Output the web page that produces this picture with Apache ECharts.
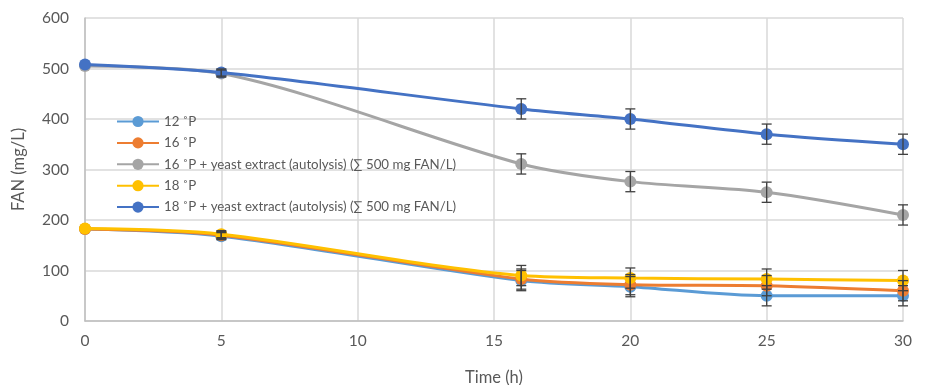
<!DOCTYPE html>
<html>
<head>
<meta charset="utf-8">
<script src="https://cdn.jsdelivr.net/npm/echarts@6/dist/echarts.min.js"></script>
<style>
  html, body { margin: 0; padding: 0; background: #fff; }
  #chart { width: 928px; height: 385px; }
</style>
</head>
<body>
<div id="chart"></div>
<script>
// time points (h)
var times = [0, 5, 16, 20, 25, 30]

// FAN values (mg/L)
var fan12 = [182, 168, 80, 68, 50, 50]
var fan16 = [182, 170, 83, 72, 70, 60]
var fan16ye = [505, 490, 311, 276, 255, 210]
var fan18 = [183, 172, 90, 85, 83, 80]
var fan18ye = [508, 492, 420, 400, 370, 350]

// error bar half widths
var err = [0, 7, 20, 20, 20, 20]

var names = [
  '12 ˚P',
  '16 ˚P',
  '16 ˚P + yeast extract (autolysis) (∑ 500 mg FAN/L)',
  '18 ˚P',
  '18 ˚P + yeast extract (autolysis) (∑ 500 mg FAN/L)'
]
var colors = ['#5B9BD5', '#ED7D31', '#A5A5A5', '#FFC000', '#4472C4']
var values = [fan12, fan16, fan16ye, fan18, fan18ye]

var chartDom = echarts.init(document.getElementById('chart'))

function pairs(vals) {
  return times.map(function (t, i) { return [t, vals[i]] })
}

function errData(vals) {
  return times.map(function (t, i) { return [t, vals[i] - err[i], vals[i] + err[i]] })
}

function renderErr(params, api) {
  if (api.value(2) - api.value(1) <= 0) return
  var lo = api.coord([api.value(0), api.value(1)])
  var hi = api.coord([api.value(0), api.value(2)])
  var cap = 5
  var st = { stroke: '#404040', lineWidth: 1.3 }
  return {
    type: 'group',
    children: [
      { type: 'line', shape: { x1: lo[0], y1: lo[1], x2: hi[0], y2: hi[1] }, style: st },
      { type: 'line', shape: { x1: lo[0] - cap, y1: lo[1], x2: lo[0] + cap, y2: lo[1] }, style: st },
      { type: 'line', shape: { x1: hi[0] - cap, y1: hi[1], x2: hi[0] + cap, y2: hi[1] }, style: st }
    ]
  }
}

var series = []
values.forEach(function (vals, i) {
  series.push({
    name: names[i],
    type: 'line',
    data: pairs(vals),
    smooth: 0.3,
    symbol: 'circle',
    symbolSize: 12,
    color: colors[i],
    lineStyle: { width: 3, color: colors[i] },
    itemStyle: { color: colors[i] },
    z: 2 + i
  })
})
values.forEach(function (vals) {
  series.push({
    type: 'custom',
    renderItem: renderErr,
    data: errData(vals),
    encode: { x: 0, y: [1, 2] },
    z: 20,
    silent: true
  })
})

var fontFam = 'Lato, "Open Sans", sans-serif'

chartDom.setOption({
  animation: false,
  textStyle: { fontFamily: fontFam },
  legend: {
    data: names,
    orient: 'vertical',
    left: 111,
    top: 110,
    itemWidth: 42,
    itemHeight: 14,
    itemGap: 8.4,
    textStyle: { color: '#595959', fontSize: 13.3, fontFamily: fontFam }
  },
  grid: { left: 85, right: 25, top: 18, bottom: 64, outerBoundsMode: 'none', containLabel: false },
  xAxis: {
    type: 'value',
    min: 0,
    max: 30,
    interval: 5,
    name: 'Time (h)',
    nameLocation: 'middle',
    nameGap: 48,
    nameTextStyle: { color: '#595959', fontSize: 16.5 },
    axisLine: { lineStyle: { color: '#BFBFBF', width: 1.5 } },
    axisTick: { show: false },
    axisLabel: { color: '#595959', fontSize: 15.5, margin: 12 },
    splitLine: { show: true, lineStyle: { color: '#D9D9D9', width: 1.5 } }
  },
  yAxis: {
    type: 'value',
    min: 0,
    max: 600,
    interval: 100,
    name: 'FAN (mg/L)',
    nameLocation: 'middle',
    nameGap: 58,
    nameTextStyle: { color: '#595959', fontSize: 16.5 },
    axisLine: { show: true, lineStyle: { color: '#BFBFBF', width: 1.5 } },
    axisTick: { show: false },
    axisLabel: { color: '#595959', fontSize: 15.5, margin: 16 },
    splitLine: { lineStyle: { color: '#D9D9D9', width: 1.5 } }
  },
  series: series
})
</script>
</body>
</html>
